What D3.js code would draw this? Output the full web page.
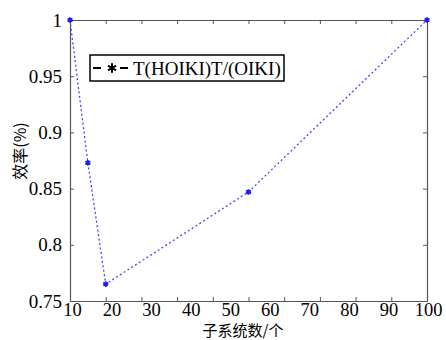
<!DOCTYPE html>
<html>
<head>
<meta charset="utf-8">
<script src="https://cdn.jsdelivr.net/npm/d3@7"></script>
<style>
  body { margin: 0; background: #fff; }
  svg { display: block; }
</style>
</head>
<body>
<div id="chart"></div>
<script>
// data (x in axis units of the plotted frame, 0..100)
let xValues = [0, 5, 10, 50, 100];
let yValues = [1.0, 0.873, 0.765, 0.847, 1.0];
let xTickMarks = [0, 10, 20, 30, 40, 50, 60, 70, 80, 90, 100];
let xTickLabels = ["10", "20", "30", "40", "50", "60", "70", "80", "90", "100"];
let yTicks = [0.75, 0.8, 0.85, 0.9, 0.95, 1];
let seriesName = "T(HOIKI)T/(OIKI)";

let width = 446, height = 340;
let plotLeft = 70, plotRight = 427, plotTop = 20, plotBottom = 301;
let axisColor = "#555";
let lineColor = "#4646ff";
let serif = "'Liberation Serif', 'Times New Roman', Tinos, 'DejaVu Serif', serif";
let cjk = "'Noto Sans CJK SC'";

let svg = d3.select("#chart").append("svg")
  .attr("width", width)
  .attr("height", height);

let x = d3.scaleLinear().domain([0, 100]).range([plotLeft, plotRight]);
let xLab = d3.scalePoint().domain(xTickLabels).range([72, 428]);
let y = d3.scaleLinear().domain([0.75, 1]).range([plotBottom, plotTop]);

function styleAxis(g, size) {
  g.attr("font-family", serif).attr("font-size", size || 19);
  g.select(".domain").attr("stroke", axisColor).attr("stroke-width", 1.2);
  g.selectAll(".tick line").attr("stroke", axisColor).attr("stroke-width", 1);
  g.selectAll("text").attr("fill", "#000")
    .style("font-family", serif).style("font-size", (size || 19) + "px");
}

// frame + inward tick marks
svg.append("g")
  .attr("transform", "translate(0," + plotBottom + ")")
  .call(d3.axisBottom(x).tickValues(xTickMarks).tickSize(-4).tickSizeOuter(0).tickFormat(""))
  .call(styleAxis);
svg.append("g")
  .attr("transform", "translate(0," + plotTop + ")")
  .call(d3.axisTop(x).tickValues(xTickMarks).tickSize(-4).tickSizeOuter(0).tickFormat(""))
  .call(styleAxis);
svg.append("g")
  .attr("transform", "translate(" + plotRight + ",0)")
  .call(d3.axisRight(y).tickValues(yTicks).tickSize(-4).tickSizeOuter(0).tickFormat(""))
  .call(styleAxis);
svg.append("g")
  .attr("transform", "translate(" + plotLeft + ",0)")
  .call(d3.axisLeft(y).tickValues(yTicks).tickSize(-4).tickSizeOuter(0).tickPadding(8)
    .tickFormat(d => String(+d.toFixed(2))))
  .call(styleAxis);

// x tick labels (placed as in the picture)
let xl = svg.append("g")
  .attr("transform", "translate(0," + plotBottom + ")")
  .call(d3.axisBottom(xLab).tickSize(0).tickPadding(1.5))
  .call(styleAxis, 18.5);
xl.select(".domain").remove();

// series
let pts = xValues.map((v, i) => ({ x: v, y: yValues[i] }));
let line = d3.line().x(d => x(d.x)).y(d => y(d.y));

svg.append("path")
  .datum(pts)
  .attr("fill", "none")
  .attr("stroke", lineColor)
  .attr("stroke-width", 1.3)
  .attr("stroke-dasharray", "2,2.5")
  .attr("d", line);

svg.append("g")
  .selectAll("path")
  .data(pts)
  .enter()
  .append("path")
  .attr("transform", d => "translate(" + x(d.x) + "," + y(d.y) + ")")
  .attr("d", d3.symbol().type(d3.symbolAsterisk).size(22))
  .attr("fill", "none")
  .attr("stroke", "#1a1aff")
  .attr("stroke-width", 1.8);

// legend
let lg = svg.append("g");
lg.append("rect")
  .attr("x", 90).attr("y", 55)
  .attr("width", 194).attr("height", 26)
  .attr("fill", "#fff")
  .attr("stroke", "#000")
  .attr("stroke-width", 1.5);
lg.append("line")
  .attr("x1", 93).attr("x2", 128)
  .attr("y1", 68).attr("y2", 68)
  .attr("stroke", "#000")
  .attr("stroke-width", 2)
  .attr("stroke-dasharray", "8,19,8");
lg.append("path")
  .attr("transform", "translate(112,68)")
  .attr("d", d3.symbol().type(d3.symbolAsterisk).size(60))
  .attr("fill", "none")
  .attr("stroke", "#000")
  .attr("stroke-width", 2);
lg.append("text")
  .attr("x", 133).attr("y", 75)
  .style("font-family", serif)
  .style("font-size", "19px")
  .text(seriesName);

// axis titles
svg.append("text")
  .attr("x", 243).attr("y", 335.5)
  .attr("text-anchor", "middle")
  .style("font-family", cjk)
  .style("font-size", "15px")
  .text("子系统数/个");

svg.append("text")
  .attr("transform", "translate(19,151) rotate(-90)")
  .attr("text-anchor", "middle")
  .attr("dominant-baseline", "central")
  .style("font-family", cjk)
  .style("font-size", "16px")
  .text("效率(%)");
</script>
</body>
</html>
